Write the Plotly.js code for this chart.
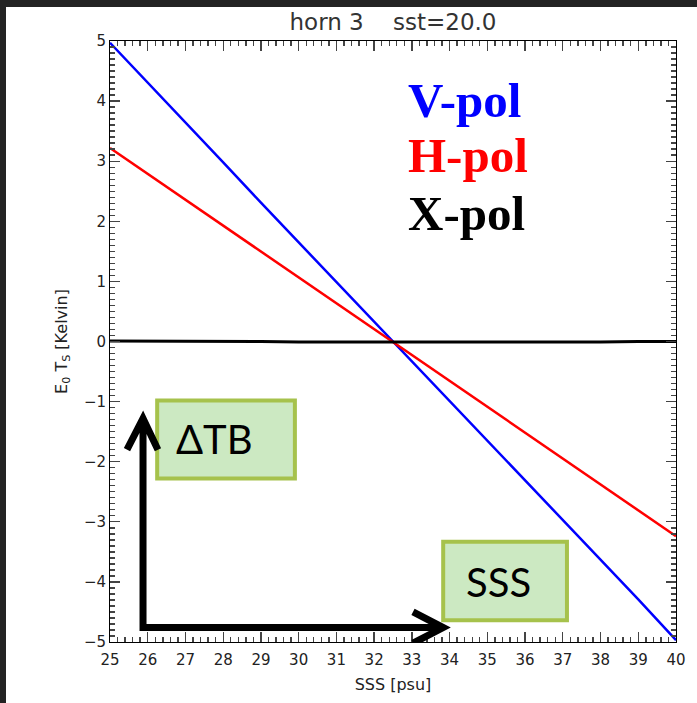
<!DOCTYPE html>
<html>
<head>
<meta charset="utf-8">
<script src="https://cdn.plot.ly/plotly-3.0.1.min.js"></script>
<style>
html,body{margin:0;padding:0;background:#232323;overflow:hidden;}
#chart{position:absolute;left:6px;top:7px;width:691px;height:696px;background:#fff;}
</style>
</head>
<body>
<div id="chart"></div>
<script>
// SSS [psu]
const sss = [25,26,27,28,29,30,31,32,33,34,35,36,37,38,39,40];
// E0 Ts [Kelvin]
const vpol = [4.97,4.31,3.64,2.98,2.31,1.65,0.99,0.33,-0.33,-0.99,-1.65,-2.31,-2.97,-3.63,-4.29,-4.97];
const hpol = [3.22,2.79,2.36,1.93,1.50,1.07,0.64,0.21,-0.22,-0.65,-1.08,-1.51,-1.94,-2.37,-2.80,-3.24];
const xpol = [0.01,0.01,0.0,0.0,0.0,-0.01,-0.01,-0.01,-0.02,-0.02,-0.02,-0.01,-0.01,-0.01,0.0,0.0];
const seriesNames = ["V-pol","H-pol","X-pol"];
const seriesColors = ["#0000ff","#ff0000","#000000"];
const xRange = [25,40];
const yRange = [-5,5];

const traces = [
  {x:sss,y:vpol,name:seriesNames[0],mode:'lines',line:{color:seriesColors[0],width:2.5}},
  {x:sss,y:hpol,name:seriesNames[1],mode:'lines',line:{color:seriesColors[1],width:2.5}},
  {x:sss,y:xpol,name:seriesNames[2],mode:'lines',line:{color:seriesColors[2],width:3}}
];

const tickFont = {family:'DejaVu Sans, sans-serif',size:15,color:'#222'};
const boxFill = '#cce9c2', boxLine = '#a6c24c';

const layout = {
  width:691,height:696,
  paper_bgcolor:'#fff',plot_bgcolor:'#fff',
  margin:{l:104,r:21,t:34,b:61},
  showlegend:false,
  title:{text:'horn 3\u00a0\u00a0\u00a0\u00a0sst=20.0',font:{family:'DejaVu Sans, sans-serif',size:23,color:'#333'},x:0.5,xref:'paper',xanchor:'center',y:0.99,yanchor:'top'},
  xaxis:{range:xRange,dtick:1,ticks:'inside',ticklen:10,tickwidth:1.4,tickcolor:'#444',ticklabelstandoff:4,
    mirror:'allticks',showline:true,linecolor:'#000',linewidth:1,showgrid:false,zeroline:false,tickfont:tickFont,
    minor:{dtick:0.2,ticks:'inside',ticklen:5,tickwidth:1.4,tickcolor:'#444',showgrid:false},
    title:{text:'SSS [psu]',font:{family:'DejaVu Sans, sans-serif',size:16,color:'#222'},standoff:10}},
  yaxis:{range:yRange,dtick:1,ticks:'inside',ticklen:10,tickwidth:1.4,tickcolor:'#444',
    mirror:'allticks',showline:true,linecolor:'#000',linewidth:1,showgrid:false,zeroline:false,tickfont:tickFont,
    minor:{dtick:0.1,ticks:'inside',ticklen:5,tickwidth:1.4,tickcolor:'#444',showgrid:false},
    title:{text:'E<sub>0</sub> T<sub>S</sub> [Kelvin]',font:{family:'DejaVu Sans, sans-serif',size:16,color:'#222'},standoff:12}},
  shapes:[
    {type:'rect',xref:'x',yref:'y',x0:26.25,x1:29.9,y0:-2.28,y1:-0.98,fillcolor:boxFill,line:{color:boxLine,width:4},layer:'above'},
    {type:'rect',xref:'x',yref:'y',x0:33.83,x1:37.11,y0:-4.64,y1:-3.33,fillcolor:boxFill,line:{color:boxLine,width:4},layer:'above'},
    {type:'path',xref:'x',yref:'y',layer:'above',
     path:'M 25.45 -1.80 L 25.875 -1.28 L 26.27 -1.80 M 25.875 -1.28 L 25.875 -4.76 L 33.83 -4.76 M 33.03 -4.50 L 33.83 -4.76 L 33.03 -5.02',
     line:{color:'#000',width:7}}
  ],
  annotations:[
    {xref:'x',yref:'y',x:32.85,y:4.01,xanchor:'left',yanchor:'middle',text:'<b>V-pol</b>',showarrow:false,font:{family:'Liberation Serif, serif',size:49,color:seriesColors[0]}},
    {xref:'x',yref:'y',x:32.85,y:3.09,xanchor:'left',yanchor:'middle',text:'<b>H-pol</b>',showarrow:false,font:{family:'Liberation Serif, serif',size:49,color:seriesColors[1]}},
    {xref:'x',yref:'y',x:32.85,y:2.13,xanchor:'left',yanchor:'middle',text:'<b>X-pol</b>',showarrow:false,font:{family:'Liberation Serif, serif',size:49,color:seriesColors[2]}},
    {xref:'x',yref:'y',x:27.76,y:-1.63,xanchor:'center',yanchor:'middle',text:'\u0394TB',showarrow:false,font:{family:'Lato, Open Sans, sans-serif',size:40,color:'#000'}},
    {xref:'x',yref:'y',x:35.3,y:-4.0,xanchor:'center',yanchor:'middle',text:'SSS',showarrow:false,font:{family:'Lato, Open Sans, sans-serif',size:40,color:'#000'}}
  ]
};
Plotly.newPlot('chart',traces,layout,{displayModeBar:false,staticPlot:true});
</script>
</body>
</html>
